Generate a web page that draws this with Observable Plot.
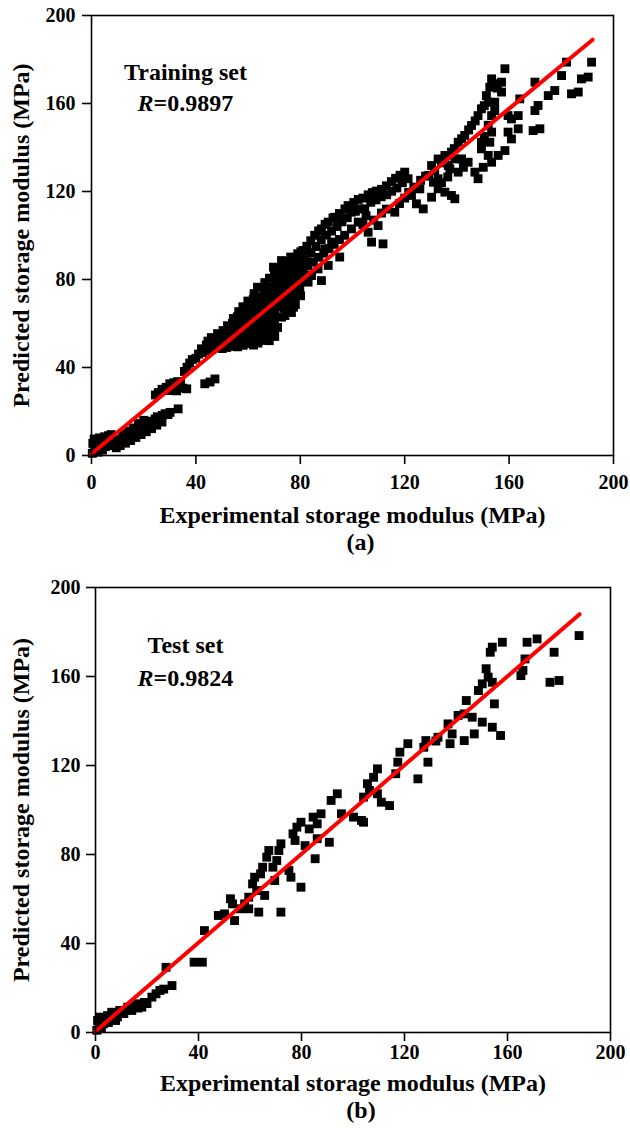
<!DOCTYPE html>
<html>
<head>
<meta charset="utf-8">
<script src="https://cdn.jsdelivr.net/npm/d3@7"></script>
<script src="https://cdn.jsdelivr.net/npm/@observablehq/plot@0.6"></script>
<style>
  html, body { margin: 0; padding: 0; background: #fff; }
  #chart svg { display: block; }
</style>
</head>
<body>
<div id="chart"></div>
<script>
// ---------- data ----------
const axisTicks = [0, 40, 80, 120, 160, 200];
const xTitle = "Experimental storage modulus (MPa)";
const yTitle = "Predicted storage modulus (MPa)";
const panelTags = ["(a)", "(b)"];
const setNames = ["Training set", "Test set"];
const rValues = ["0.9897", "0.9824"];

// training set: experimental (x) and predicted (y)
const trainExp = [
  0.3,0.5,1.0,1.2,2.0,2.5,3.0,3.2,4.0,4.2,5.0,5.3,6.5,6.3,7.5,7.4,8.5,9.3,10.2,10.8,11.8,12.5,13.4,14.2,15.0,15.6,16.5,17.2,18.1,18.6,19.6,20.3,21.1,22.0,22.6,23.5,24.4,25.2,26.1,27.1,28.2,29.3,30.1,33.2,
  9.5,11.0,13.0,15.0,17.0,19.0,21.0,23.0,25.0,27.0,16.0,18.0,20.0,14.0,12.0,
  24.5,25.6,27.0,28.6,30.0,31.6,33.0,34.1,30.2,32.6,35.0,36.5,35.6,36.6,37.6,38.6,40.0,41.0,43.4,45.4,47.3,
  42.1,42.6, 44.2,44.0,44.6, 46.1,46.3,45.9, 48.2,48.0,48.3, 50.1,50.4,49.9,50.4, 51.8,52.2,51.9,52.1,
  54.1,53.8,54.2,54.0,54.4, 56.0,56.3,55.8,56.2,55.9,56.4, 58.1,57.8,58.2,57.9,58.3,58.0,
  60.5,59.9,60.2,59.8,60.1,60.3,59.9, 62.1,61.8,62.2,62.0,61.9,62.2,62.0,62.3,
  63.8,64.2,64.0,63.9,64.1,64.3,63.6,63.6, 65.1,66.2,65.9,66.1,66.3,65.8,66.2,66.0,66.4,
  68.1,67.9,68.2,68.0,67.8,68.3,68.1,67.9,68.2, 70.2,69.8,70.1,70.3,69.9,70.2,70.0,70.3,70.1,69.7,
  71.3,72.8,71.9,72.2,72.0,71.8,72.3,72.1,72.8, 74.1,73.9,74.2,74.0,73.8,74.3,74.1,74.0,
  75.9,76.6,75.8,76.2,76.0,76.4,75.9,76.1,76.3, 77.4,78.1,77.9,78.2,78.0,78.3,77.8,78.1,79.0,
  79.2,80.1,79.8,80.2,80.0,80.3,79.9,80.2,
  81.0,82.5,84.0,85.5,87.0,88.1,89.5,90.7,92.5,93.2,95.0,97.1,98.3,
  82.0,84.1,86.0,88.0,90.0,92.0,94.1,96.0,98.0,99.6,
  81.0,83.0,85.0,87.1,89.0,91.0,93.0,95.0,97.0,99.6,
  83.0,84.3,86.8,88.1,90.7,95.1,89.4,92.0,
  100.5,102.2,104.0,106.0,107.6,109.1,111.1,113.0,114.9,116.5,118.2,120.0,
  101.1,103.0,104.7,107.0,109.0,111.0,113.1,115.0,117.0,119.1,121.3,
  102.2,104.0,106.0,107.3,111.7,109.8,108.1,111.1,113.0,116.2,118.0,120.0,121.5,105.2,
  122.6,124.5,127.1,125.8,123.5,126.1,128.0,129.2,130.3,131.5,132.8,134.1,135.4,136.7,137.9,139.2,139.0,140.5,141.8,130.3,132.8,135.4,137.9,139.2,137.3,140.5,144.3,146.9,148.1,132.8,134.1,136.5,131.0,142.5,
  141.8,143.0,144.5,145.6,147.0,148.1,149.4,150.5,152.0,151.3,152.6,153.3,154.1,155.5,157.1,157.1,158.4,154.5,154.5,153.3,152.0,149.4,149.4,152.0,153.3,155.8,158.4,152.6,153.3,150.5,159.6,160.9,163.5,160.9,163.5,159.6,164.1,150.1,
  169.9,171.1,169.9,171.8,169.2,175.0,177.5,180.1,182.0,183.9,186.5,187.7,190.3,191.6
];
const trainPred = [
  1.0,5.5,7.5,2.5,6.5,1.5,8.0,3.5,7.5,2.5,8.5,4.0,9.0,4.5,9.5,5.0,5.5,6.5,5.2,7.2,6.8,8.2,8.6,7.6,9.2,10.6,10.0,11.6,11.0,12.6,13.2,12.2,14.1,13.6,15.6,15.0,16.6,17.6,17.1,18.2,19.0,18.6,19.6,21.2,
  3.5,4.5,5.6,6.8,8.2,9.5,10.8,12.2,13.8,15.2,12.5,14.5,16.0,11.0,9.5,
  27.5,28.6,30.1,31.0,32.6,33.1,33.6,33.0,29.5,29.4,30.6,30.3,38.2,40.1,42.0,43.6,44.2,46.1,32.6,33.4,34.8,
  48.5,46.8, 47.6,50.2,52.0, 48.2,51.1,53.6, 49.0,52.2,55.4, 48.6,51.6,54.1,56.8, 49.1,52.3,55.6,59.0,
  49.6,53.0,56.6,60.1,62.3, 49.4,52.6,56.1,59.6,63.1,65.4, 50.1,53.6,57.1,60.6,64.2,67.6,
  50.9,52.6,56.1,59.6,63.0,66.6,70.2, 50.2,53.6,57.1,60.6,64.1,67.6,71.1,73.6,
  51.1,54.6,58.1,61.6,65.1,68.6,72.1,76.5, 52.3,55.1,58.6,62.1,65.6,69.1,72.6,76.1,78.6,
  52.2,55.6,59.1,62.6,66.1,69.6,73.1,76.6,80.6, 54.1,57.6,61.1,64.6,68.1,71.6,75.1,78.6,82.1,85.6,
  58.2,62.9,67.6,71.1,74.6,78.1,81.6,85.1,88.6, 63.6,67.1,70.6,74.1,77.6,81.1,84.6,88.1,
  65.9,65.0,70.1,73.6,77.1,80.6,84.1,87.6,90.2, 67.4,68.6,72.1,75.6,79.1,82.6,86.1,89.6,91.7,
  78.8,72.6,76.1,79.6,83.1,86.6,90.1,92.6,
  93.2,95.1,97.6,100.1,102.1,103.0,105.1,106.1,108.0,108.3,110.0,112.1,113.6,
  89.1,92.1,95.0,98.1,100.2,102.0,104.1,106.2,108.1,110.6,
  84.0,86.1,88.0,90.1,92.0,94.1,96.0,98.2,100.1,103.0,
  78.8,81.8,84.8,79.5,86.4,90.2,93.9,97.0,
  115.0,116.4,117.0,118.5,119.5,120.2,121.0,122.6,124.5,126.0,127.4,128.8,
  111.0,112.1,112.1,115.1,116.2,117.6,118.5,120.1,121.6,124.0,125.8,
  106.1,105.0,101.5,97.0,96.2,104.5,107.0,110.2,112.0,110.6,114.5,117.0,119.6,109.0,
  118.2,114.4,112.1,121.2,122.0,125.1,127.0,127.3,131.8,129.5,134.8,133.0,136.4,131.8,137.9,134.8,139.5,142.4,134.8,117.4,121.2,119.7,118.2,116.7,130.3,128.8,133.3,128.8,125.8,125.8,124.0,126.6,124.2,131.0,
  144.0,145.5,148.0,150.0,152.1,154.5,157.6,159.0,160.6,163.6,167.4,171.2,169.0,167.0,169.7,165.2,175.8,160.6,156.8,154.5,150.1,142.4,139.4,136.4,133.3,136.4,138.6,142.4,147.0,145.0,147.0,143.9,148.5,153.0,154.5,154.5,162.1,131.0,
  169.7,159.1,156.8,148.5,147.7,163.6,165.9,172.7,178.8,164.4,165.2,171.2,172.0,178.8
];

// test set: experimental (x) and predicted (y)
const testExp = [
  187.8,178.1,176.5,180.0,167.6,171.5,166.8,166.0,165.2,158.0,153.3,154.1,151.7,152.5,150.2,148.7,154.1,154.9,150.2,154.1,157.3,144.0,143.2,140.8,146.3,147.1,143.2,136.9,138.5,137.7,133.0,132.2,128.3,127.5,129.1,121.3,118.2,117.4,109.5,
  125.2,116.6,108.0,105.6,106.4,104.1,109.5,111.0,114.2,103.3,100.2,104.1,95.5,93.9,91.5,87.6,84.5,86.1,79.8,78.2,76.7,77.5,83.0,81.4,86.1,90.8,85.3,72.0,71.2,67.3,66.5,70.4,68.9,64.9,64.1,75.1,75.9,69.6,61.8,61.0,62.6,65.7,59.5,57.9,52.4,53.2,56.3,59.5,54.0,47.7,50.1,63.4,72.0,79.8,42.3,41.5,38.3,27.4,
  0.5,0.8,1.6,2.3,3.1,4.7,5.0,6.3,7.8,8.5,9.4,11.0,12.5,14.1,15.6,16.5,18.0,19.0,20.0,21.9,23.5,25.0,26.5,29.7,2.0,3.5
];
const testPred = [
  178.4,170.9,157.4,158.2,175.4,176.9,167.9,162.7,160.4,175.4,170.9,173.2,163.5,159.7,156.7,153.7,157.4,147.7,139.5,137.2,133.5,149.2,143.2,142.5,141.7,134.2,131.2,138.7,134.2,129.8,132.7,131.0,131.2,128.2,121.5,129.8,126.0,121.5,118.5,
  114.0,116.3,114.7,111.8,108.8,105.8,107.3,103.5,102.0,95.3,96.8,94.5,98.3,107.3,104.3,98.3,96.8,93.8,94.5,92.3,89.3,86.3,91.5,84.0,87.1,85.5,78.1,84.8,81.8,81.8,78.8,77.3,74.3,74.3,71.3,72.8,69.8,68.3,69.8,66.8,63.8,61.6,60.8,57.8,60.1,57.8,55.6,55.6,50.3,52.6,53.3,54.1,54.1,65.3,45.8,31.6,31.6,29.3,
  1.0,5.4,6.9,1.7,3.9,7.6,4.5,9.1,5.4,7.0,9.9,8.5,11.4,9.9,12.9,11.0,11.4,13.5,13.0,15.9,17.4,18.9,19.5,21.1,4.0,6.0
];

// fitted lines (end points)
const trainFitX = [0, 192];
const trainFitY = [0.8, 189];
const testFitX = [0, 188];
const testFitY = [0.5, 188];

// ---------- drawing ----------
const FONT = "'Liberation Serif', 'Times New Roman', Times, serif";

function panel(cfg) {
  const pts = cfg.exp.map((x, i) => ({x, y: cfg.pred[i]}));
  const fit = cfg.fitX.map((x, i) => ({x, y: cfg.fitY[i]}));
  const T = {fontSize: 24, fontWeight: "bold", lineAnchor: "middle"};
  return Plot.plot({
    width: 630,
    height: 565,
    marginTop: cfg.mt, marginBottom: cfg.mb, marginLeft: cfg.ml, marginRight: cfg.mr,
    x: {domain: [0, 200], axis: null},
    y: {domain: [0, 200], axis: null},
    style: {fontFamily: FONT, fontWeight: "bold", background: "white", color: "black", overflow: "visible"},
    marks: [
      Plot.axisX({ticks: axisTicks, tickSize: 9, tickPadding: cfg.padX, strokeWidth: 1.6, fontSize: 20, label: null, tickFormat: d => String(d)}),
      Plot.axisY({ticks: axisTicks, tickSize: 9, tickPadding: cfg.padY, strokeWidth: 1.6, fontSize: 20, label: null, tickFormat: d => String(d)}),
      Plot.dot(pts, {x: "x", y: "y", symbol: "square", r: 5, fill: "black"}),
      Plot.line(fit, {x: "x", y: "y", stroke: "#ff0000", strokeWidth: 4}),
      Plot.frame({stroke: "black", strokeWidth: 1.6}),
      Plot.text([xTitle], {...T, frameAnchor: "bottom", dy: cfg.titleDy, textAnchor: "middle"}),
      Plot.text([yTitle], {...T, frameAnchor: "left", rotate: -90, dx: cfg.yTitleDx, textAnchor: "middle"}),
      Plot.text([cfg.tag], {...T, frameAnchor: "bottom", dy: cfg.tagDy, dx: 8, textAnchor: "middle"}),
      Plot.text([cfg.name], {...T, frameAnchor: "top-left", dx: cfg.nameDx, dy: cfg.nameDy, textAnchor: "middle"}),
      Plot.text(["R"], {...T, frameAnchor: "top-left", dx: cfg.rDx, dy: cfg.rDy, fontStyle: "italic", textAnchor: "end"}),
      Plot.text(["=" + cfg.r], {...T, frameAnchor: "top-left", dx: cfg.rDx, dy: cfg.rDy, textAnchor: "start"})
    ]
  });
}

const chart = document.getElementById("chart");
chart.append(panel({
  exp: trainExp, pred: trainPred, fitX: trainFitX, fitY: trainFitY,
  name: setNames[0], r: rValues[0], tag: panelTags[0],
  mt: 15, mb: 110, ml: 91, mr: 17, padX: 10, padY: 7,
  titleDy: 60, tagDy: 87, yTitleDx: -70,
  nameDx: 94, nameDy: 57, rDx: 62, rDy: 88
}));
chart.append(panel({
  exp: testExp, pred: testPred, fitX: testFitX, fitY: testFitY,
  name: setNames[1], r: rValues[1], tag: panelTags[1],
  mt: 22, mb: 98, ml: 95, mr: 20, padX: 3, padY: 6,
  titleDy: 51, tagDy: 78, yTitleDx: -74,
  nameDx: 90, nameDy: 58, rDx: 58, rDy: 91
}));
</script>
</body>
</html>
